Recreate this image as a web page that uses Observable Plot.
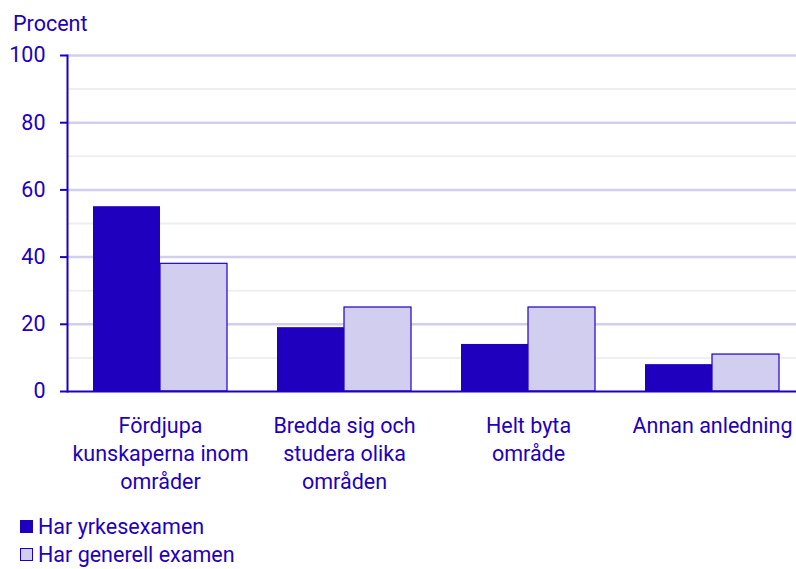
<!DOCTYPE html>
<html>
<head>
<meta charset="utf-8">
<script src="https://cdn.jsdelivr.net/npm/d3@7"></script>
<script src="https://cdn.jsdelivr.net/npm/@observablehq/plot@0.6"></script>
<style>
  html, body { margin: 0; padding: 0; background: #fff; }
  body { font-family: Roboto, sans-serif; color: #1e00be; width: 796px; }
  #title { height: 27px; padding: 13px 0 0 13px; font-size: 21.5px; line-height: 21px; }
  #chart svg { display: block; }
  #legend { padding-top: 12px; }
  .row { display: flex; align-items: center; height: 28px; font-size: 21.5px; line-height: 21px; }
  .sw { width: 13px; height: 13px; box-sizing: border-box; margin-left: 20px; margin-right: 5px; }
</style>
</head>
<body>
<div id="title">Procent</div>
<div id="chart"></div>
<div id="legend"></div>
<script>
const categories = [
  "Fördjupa kunskaperna inom områder",
  "Bredda sig och studera olika områden",
  "Helt byta område",
  "Annan anledning"
];
const tickLabels = [
  "Fördjupa\nkunskaperna inom\nområder",
  "Bredda sig och\nstudera olika\nområden",
  "Helt byta\nområde",
  "Annan anledning"
];
const series = ["Har yrkesexamen", "Har generell examen"];
const yrkesexamen = [55, 19, 14, 8];
const generellExamen = [38, 25, 25, 11];
const yMajorTicks = [0, 20, 40, 60, 80, 100];
const yMinorTicks = [10, 30, 50, 70, 90];

const dark = "#1e00be";
const light = "#d2cef0";

const rowsA = categories.map((c, i) => ({category: c, value: yrkesexamen[i]}));
const rowsB = categories.map((c, i) => ({category: c, value: generellExamen[i]}));

const plot = Plot.plot({
  width: 796,
  height: 460,
  marginTop: 15,
  marginBottom: 109,
  marginLeft: 67,
  marginRight: 0,
  style: {fontFamily: "Roboto, sans-serif", fontSize: "21.5px", color: dark, background: "#fff"},
  x: {type: "band", domain: categories, range: [67, 805], paddingInner: 50 / 184, paddingOuter: 26 / 184, axis: null},
  y: {domain: [0, 100], axis: null},
  marks: [
    Plot.gridY(yMinorTicks, {stroke: "#efefef", strokeOpacity: 1, strokeWidth: 2}),
    Plot.gridY(yMajorTicks.filter(d => d > 0), {stroke: light, strokeOpacity: 1, strokeWidth: 2.5}),
    Plot.barY(rowsA, {x: "category", y: "value", fill: dark, insetRight: 67, insetLeft: 0}),
    Plot.barY(rowsB, {x: "category", y: "value", fill: light, stroke: dark, strokeWidth: 1.2, insetLeft: 67, insetRight: 0}),
    Plot.ruleY([0], {stroke: dark, strokeWidth: 2}),
    Plot.axisY(yMajorTicks, {tickSize: 7, tickPadding: 15, strokeWidth: 2, fontSize: 21.5, fill: dark, stroke: dark, label: null}),
    Plot.frame({anchor: "left", stroke: dark, strokeWidth: 2}),
    Plot.text(categories, {x: d => d, frameAnchor: "bottom", lineAnchor: "top", dy: 22, text: (d, i) => tickLabels[i], lineHeight: 1.29, fontSize: 21.5, fill: dark})
  ]
});
document.getElementById("chart").appendChild(plot);

const legend = document.getElementById("legend");
series.forEach((s, i) => {
  const row = document.createElement("div");
  row.className = "row";
  const sw = document.createElement("span");
  sw.className = "sw";
  sw.style.background = i === 0 ? dark : light;
  sw.style.border = i === 0 ? "none" : `1.5px solid ${dark}`;
  const label = document.createElement("span");
  label.textContent = s;
  row.appendChild(sw);
  row.appendChild(label);
  legend.appendChild(row);
});
</script>
</body>
</html>
